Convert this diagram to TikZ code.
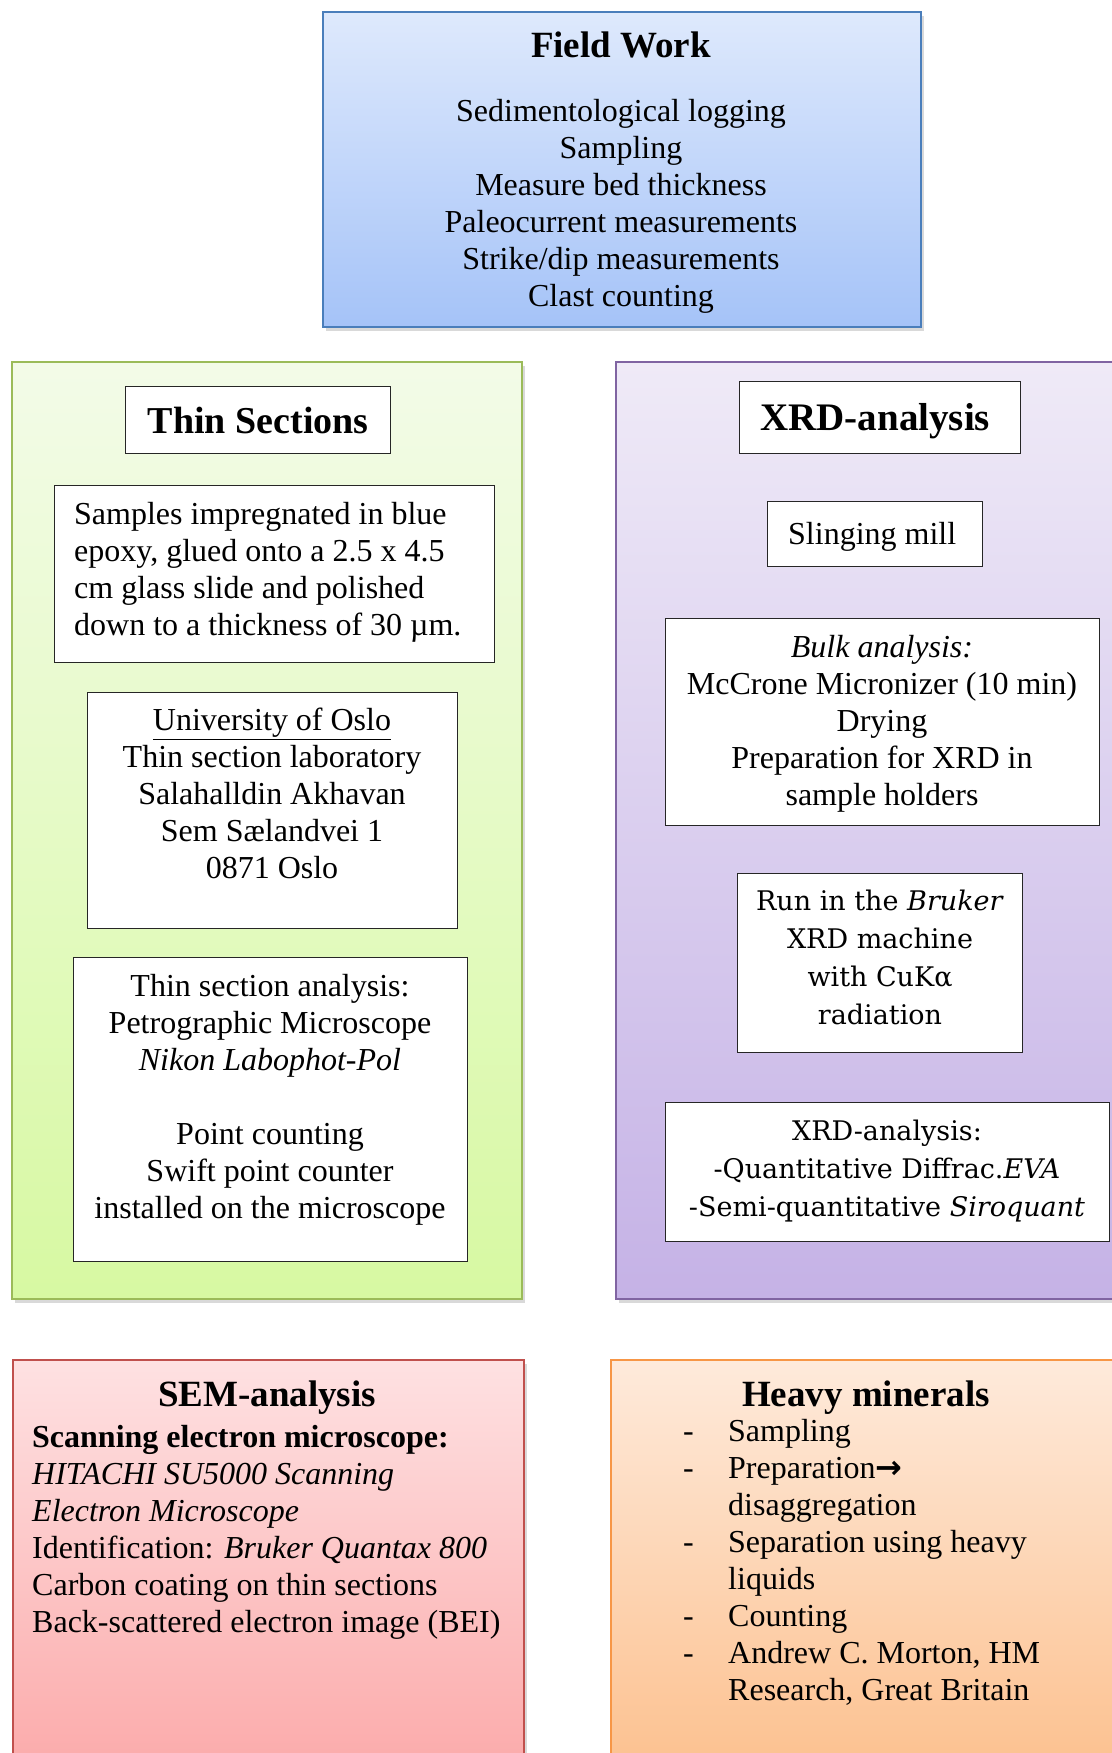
\documentclass[tikz,border=0pt]{standalone}
\usepackage{fontspec}
\setmainfont{Liberation Serif}
\newfontfamily\cambriafont{DejaVu Serif}
\newfontfamily\arrowfont{DejaVu Sans}
\usetikzlibrary{shadows}

\tikzset{
  panel/.style={draw, line width=2pt, anchor=north west, inner sep=0pt,
    drop shadow={shadow xshift=3pt, shadow yshift=-4pt, opacity=0.3}},
  innerbox/.style={draw=black!85, line width=1.4pt, fill=white, anchor=north west, inner sep=0pt},
  txt/.style={font=\fontsize{32}{37}\selectfont, inner sep=0pt, align=center},
  headtxt/.style={font=\fontsize{37}{43}\selectfont\bfseries, inner sep=0pt, anchor=base},
}

\begin{document}
\begin{tikzpicture}[x=1pt, y=-1pt]
\useasboundingbox (0,0) rectangle (1111,1753);

% colored panels
\node[panel, draw={rgb,255:red,74;green,126;blue,187}, top color={rgb,255:red,222;green,233;blue,252}, bottom color={rgb,255:red,165;green,195;blue,248}, minimum width=598pt, minimum height=315pt] (field) at (322,11) {};
\node[panel, draw={rgb,255:red,155;green,187;blue,89}, top color={rgb,255:red,243;green,251;blue,232}, bottom color={rgb,255:red,215;green,249;blue,162}, minimum width=510pt, minimum height=937pt] (thin) at (11,361) {};
\node[panel, draw={rgb,255:red,128;green,100;blue,162}, top color={rgb,255:red,239;green,234;blue,247}, bottom color={rgb,255:red,197;green,178;blue,230}, minimum width=540pt, minimum height=937pt] (xrd) at (615,361) {};
\node[panel, draw={rgb,255:red,192;green,80;blue,77}, top color={rgb,255:red,254;green,225;blue,226}, bottom color={rgb,255:red,251;green,164;blue,164}, minimum width=511pt, minimum height=460pt] (sem) at (12,1359) {};
\node[panel, draw={rgb,255:red,247;green,150;blue,70}, top color={rgb,255:red,254;green,234;blue,219}, bottom color={rgb,255:red,252;green,188;blue,134}, minimum width=540pt, minimum height=460pt] (heavy) at (610,1359) {};

% field work
\node[headtxt] (fieldhead) at (621,58) {Field Work};
\node[txt, anchor=north] (fieldlist) at (621,99) {Sedimentological logging\\ Sampling\\ Measure bed thickness\\ Paleocurrent measurements\\ Strike/dip measurements\\ Clast counting};

% thin sections
\node[innerbox, minimum width=265pt, minimum height=67pt] (thinbox) at (125,386) {};
\node[headtxt, font=\fontsize{38}{44}\selectfont\bfseries] (thinhead) at ([yshift=-13pt]thinbox.center) {Thin Sections};
\node[innerbox, minimum width=440pt, minimum height=177pt] (samples) at (54,485) {};
\node[txt, align=left, anchor=north west] (samplestxt) at (74,502) {Samples impregnated in blue\\ epoxy, glued onto a 2.5 x 4.5\\ cm glass slide and polished\\ down to a thickness of 30 µm.};
\node[innerbox, minimum width=370pt, minimum height=236pt] (uio) at (87,692) {};
\node[txt, anchor=north] (uiotxt) at (272,708) {\underline{University of Oslo}\\ Thin section laboratory\\ Salahalldin Akhavan\\ Sem Sælandvei 1\\ 0871 Oslo};
\node[innerbox, minimum width=394pt, minimum height=304pt] (tsa) at (73,957) {};
\node[txt, anchor=north] (tsatxt) at (270,974) {Thin section analysis:\\ Petrographic Microscope\\ \textit{Nikon Labophot-Pol}\\[37pt] Point counting\\ Swift point counter\\ installed on the microscope};

% xrd
\node[innerbox, minimum width=281pt, minimum height=72pt] (xrdbox) at (739,381) {};
\node[headtxt, font=\fontsize{39}{45}\selectfont\bfseries] (xrdhead) at ([xshift=-5pt, yshift=-13pt]xrdbox.center) {XRD-analysis};
\node[innerbox, minimum width=215pt, minimum height=65pt] (mill) at (767,501) {};
\node[txt, anchor=base] (milltxt) at ([xshift=-3pt, yshift=-10pt]mill.center) {Slinging mill};
\node[innerbox, minimum width=434pt, minimum height=207pt] (bulk) at (665,618) {};
\node[txt, anchor=north] (bulktxt) at (882,635) {\textit{Bulk analysis:}\\ McCrone Micronizer (10 min)\\ Drying\\ Preparation for XRD in\\ sample holders};
\node[innerbox, minimum width=285pt, minimum height=179pt] (bruker) at (737,873) {};
\node[txt, font=\cambriafont\fontsize{27}{38}\selectfont, anchor=north] (brukertxt) at (880,890) {Run in the \textit{Bruker}\\ XRD machine\\ with CuKα\\ radiation};
\node[innerbox, minimum width=444pt, minimum height=139pt] (xrdres) at (665,1102) {};
\node[txt, font=\cambriafont\fontsize{27}{38}\selectfont, anchor=north] (xrdrestxt) at (887,1120) {XRD-analysis:\\ -Quantitative Diffrac.\textit{EVA}\\ -Semi-quantitative \textit{Siroquant}};

% sem
\node[headtxt] (semhead) at (267,1406) {SEM-analysis};
\node[txt, align=left, anchor=north west] (semtxt) at (32,1425) {\textbf{Scanning electron microscope:}\\ \textit{HITACHI SU5000 Scanning}\\ \textit{Electron Microscope}\\ Identification: \textit{Bruker Quantax 800}\\ Carbon coating on thin sections\\ Back-scattered electron image (BEI)};

% heavy minerals
\node[headtxt] (heavyhead) at (866,1406) {Heavy minerals};
\node[txt, align=left, anchor=north west] (heavytxt) at (683,1419) {\makebox[45pt][l]{-}Sampling\\
  \makebox[45pt][l]{-}Preparation{\arrowfont\bfseries →}\\
  \hspace*{45pt}disaggregation\\
  \makebox[45pt][l]{-}Separation using heavy\\
  \hspace*{45pt}liquids\\
  \makebox[45pt][l]{-}Counting\\
  \makebox[45pt][l]{-}Andrew C. Morton, HM\\
  \hspace*{45pt}Research, Great Britain};
\end{tikzpicture}
\end{document}
